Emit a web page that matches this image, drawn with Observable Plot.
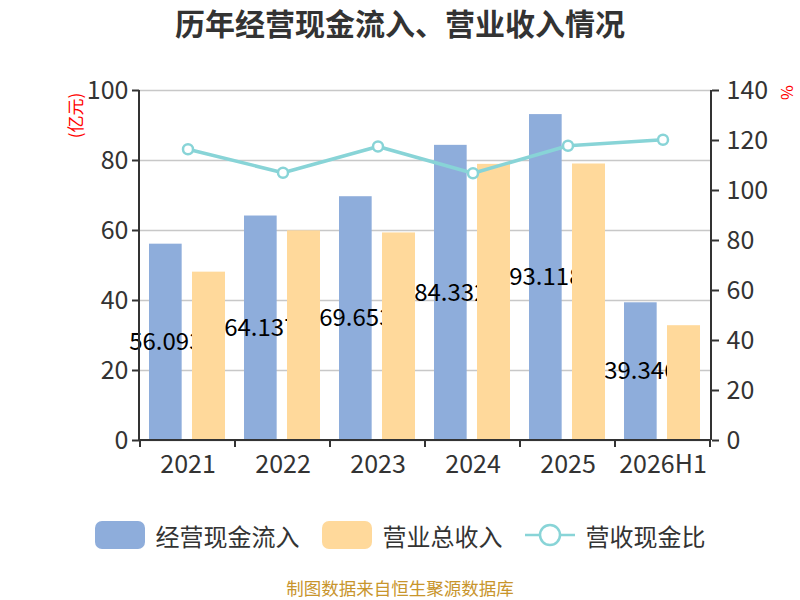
<!DOCTYPE html>
<html>
<head>
<meta charset="utf-8">
<script src="https://cdn.jsdelivr.net/npm/d3@7"></script>
<script src="https://cdn.jsdelivr.net/npm/@observablehq/plot@0.6"></script>
<style>
  body { margin: 0; background: #fff; font-family: "Noto Sans CJK SC", "Noto Sans", sans-serif; }
  #wrap { width: 800px; height: 600px; position: relative; overflow: hidden; }
  #title { height: 60px; line-height: 44px; text-align: center; font-size: 30px; font-weight: bold; color: #333; }
  #legend { position: absolute; top: 520px; left: 0; width: 800px; height: 30px; display: flex; justify-content: center; align-items: center; font-size: 24px; color: #333; }
  .item { display: flex; align-items: center; margin: 0 11px; }
  .sw { width: 50px; height: 28px; border-radius: 7px; margin-right: 11px; }
  #footer { position: absolute; top: 575px; width: 800px; text-align: center; font-size: 17.5px; color: #c8952c; }
</style>
</head>
<body>
<div id="wrap">
  <div id="title">历年经营现金流入、营业收入情况</div>
  <div id="chart"></div>
  <div id="legend"></div>
  <div id="footer">制图数据来自恒生聚源数据库</div>
</div>
<script>
const categories = ["2021", "2022", "2023", "2024", "2025", "2026H1"];
const cashInflow = [56.093, 64.137, 69.653, 84.332, 93.118, 39.346];
const revenue = [48.1, 59.9, 59.3, 78.9, 79.0, 32.8];
const ratio = [116.5, 107.1, 117.6, 106.9, 117.9, 120.3];
const leftTicks = [0, 20, 40, 60, 80, 100];
const rightTicks = [0, 20, 40, 60, 80, 100, 120, 140];

const blue = "#8eaddb";
const orange = "#ffd99b";
const teal = "#88d4d7";
const axisColor = "#333";
const RMAX = 140;
const toLeft = v => v * 100 / RMAX;

const data = categories.map((c, i) => ({cat: c, cash: cashInflow[i], rev: revenue[i], ratio: ratio[i]}));

const W = 800, ML = 139, MR = 89;
const bw = (W - ML - MR) / categories.length;

function axesMark(index, scales, values, dims) {
  const g = d3.create("svg:g");
  const x0 = dims.marginLeft, x1 = dims.width - dims.marginRight;
  const y0 = dims.height - dims.marginBottom, yTop = dims.marginTop;
  g.append("line").attr("x1", x0).attr("x2", x0).attr("y1", yTop).attr("y2", y0).attr("stroke", axisColor).attr("stroke-width", 2);
  g.append("line").attr("x1", x1).attr("x2", x1).attr("y1", yTop).attr("y2", y0).attr("stroke", axisColor).attr("stroke-width", 2);
  g.append("line").attr("x1", x0).attr("x2", x1).attr("y1", y0).attr("y2", y0).attr("stroke", axisColor).attr("stroke-width", 2);
  const edges = categories.map(c => scales.x(c)).concat([scales.x(categories[categories.length - 1]) + scales.x.bandwidth()]);
  for (const e of edges) {
    g.append("line").attr("x1", e).attr("x2", e).attr("y1", y0).attr("y2", y0 + 7).attr("stroke", axisColor).attr("stroke-width", 2);
  }
  return g.node();
}

const chart = Plot.plot({
  width: W,
  height: 420,
  marginTop: 30,
  marginBottom: 40,
  marginLeft: ML,
  marginRight: MR,
  style: {fontFamily: "'Noto Sans CJK SC', 'Noto Sans', sans-serif", fontSize: "24px", color: "#333", background: "white"},
  x: {type: "band", domain: categories, padding: 0},
  y: {domain: [0, 100]},
  marks: [
    Plot.gridY(leftTicks, {stroke: "#c8c8c8", strokeOpacity: 1, strokeWidth: 1.5}),
    Plot.barY(data, {x: "cat", y: "cash", fill: blue, insetLeft: 9, insetRight: bw - 42}),
    Plot.text(data, {x: "cat", y: d => d.cash / 2, text: d => d.cash.toFixed(3), dx: -(bw / 2 - 25.5), fill: "#000", fontSize: 24, textAnchor: "middle", lineAnchor: "middle"}),
    Plot.barY(data, {x: "cat", y: "rev", fill: orange, insetLeft: 52, insetRight: 10}),
    Plot.line(data, {x: "cat", y: d => toLeft(d.ratio), stroke: teal, strokeWidth: 3.5}),
    Plot.dot(data, {x: "cat", y: d => toLeft(d.ratio), r: 5, fill: "white", stroke: teal, strokeWidth: 2.5}),
    axesMark,
    Plot.axisY({ticks: leftTicks, tickSize: 7, tickPadding: 4, stroke: axisColor, strokeWidth: 2, fill: "#333", fontSize: 25, label: null}),
    Plot.axisY({anchor: "right", ticks: rightTicks.map(toLeft), tickFormat: d => String(Math.round(d * RMAX / 100)), tickSize: 7, tickPadding: 8, stroke: axisColor, strokeWidth: 2, fill: "#333", fontSize: 25, label: null}),
    Plot.axisX({tickSize: 0, tickPadding: 15, fill: "#333", fontSize: 25, label: null}),
    Plot.text(["(亿元)"], {frameAnchor: "top-left", dx: -63, dy: 25, rotate: -90, fill: "#ff0000", fontSize: 17, textAnchor: "middle", lineAnchor: "middle"}),
    Plot.text(["%"], {frameAnchor: "top-right", dx: 75, dy: 2, rotate: 90, fill: "#ff0000", fontSize: 16, textAnchor: "middle", lineAnchor: "middle"})
  ]
});
document.getElementById("chart").appendChild(chart);

const legendItems = [
  {label: "经营现金流入", type: "rect", color: blue},
  {label: "营业总收入", type: "rect", color: orange},
  {label: "营收现金比", type: "line", color: teal}
];
const legend = document.getElementById("legend");
for (const it of legendItems) {
  const d = document.createElement("div");
  d.className = "item";
  if (it.type === "rect") {
    d.innerHTML = `<div class="sw" style="background:${it.color}"></div><span>${it.label}</span>`;
  } else {
    d.innerHTML = `<svg width="50" height="28" style="margin-right:11px"><line x1="0" x2="50" y1="14" y2="14" stroke="${it.color}" stroke-width="2.5"/><circle cx="25" cy="14" r="10" fill="white" stroke="${it.color}" stroke-width="2.5"/></svg><span>${it.label}</span>`;
  }
  legend.appendChild(d);
}
</script>
</body>
</html>
